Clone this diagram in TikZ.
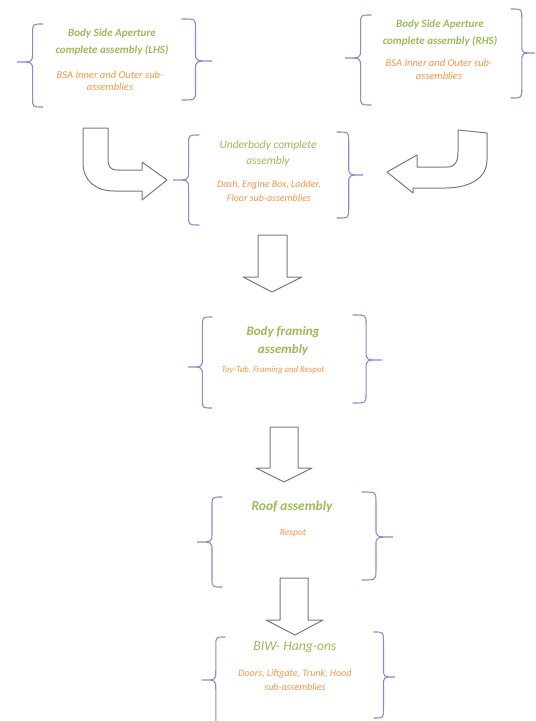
\documentclass[tikz,border=0pt]{standalone}
\usepackage{fontspec}
\setmainfont{Carlito}
\definecolor{tgreen}{HTML}{9BBB59}
\definecolor{torange}{HTML}{F79646}
\definecolor{tpurple}{HTML}{9B83CF}
\definecolor{tgray}{HTML}{7A7A7A}
\newcommand{\LBr}[5]{%
  \pgfmathsetmacro\brxm{#4+0.6*(#1-#4)}%
  \draw[bracestyle] (#1,#2) .. controls (\brxm,#2) .. (\brxm,#2+9) -- (\brxm,#5-9) .. controls (\brxm,#5) .. (#4,#5) .. controls (\brxm,#5) .. (\brxm,#5+9) -- (\brxm,#3-9) .. controls (\brxm,#3) .. (#1,#3);}
\newcommand{\RBr}[5]{%
  \pgfmathsetmacro\brxm{#4-0.55*(#4-#1)}%
  \draw[bracestyle] (#1,#2) .. controls (\brxm,#2) .. (\brxm,#2+9) -- (\brxm,#5-9) .. controls (\brxm,#5) .. (#4,#5) .. controls (\brxm,#5) .. (\brxm,#5+9) -- (\brxm,#3-9) .. controls (\brxm,#3) .. (#1,#3);}
\newcommand{\DownArrow}[8]{% x1 x2 ytop ybase hx1 hx2 tipx tipy
  \draw[blockarrow] (#1,#3) -- (#2,#3) -- (#2,#4) -- (#6,#4) -- (#7,#8) -- (#5,#4) -- (#1,#4) -- cycle;}
\tikzset{
  bracestyle/.style={draw=tpurple, line width=1.1pt, line cap=round},
  blockarrow/.style={draw=tgray, fill=white, line width=1pt, line join=round},
  titlebold/.style={text=tgreen, align=center, font=\fontsize{11}{17}\selectfont\bfseries\itshape},
  titleplain/.style={text=tgreen, align=center, font=\fontsize{11.5}{16}\selectfont\itshape},
  titlebig/.style={text=tgreen, align=center, font=\fontsize{13}{18}\selectfont\bfseries\itshape},
  subtext/.style={text=torange, align=center, font=\fontsize{10.5}{12.5}\selectfont\itshape},
  subtextb/.style={text=torange, align=center, font=\fontsize{10}{14}\selectfont\itshape},
}
\begin{document}
\begin{tikzpicture}[x=1pt,y=-1pt]
\useasboundingbox (0,0) rectangle (536,721);
\fill[white] (0,0) rectangle (536,721);

% Braces
\LBr{43}{24}{107}{17}{62}
\RBr{182}{19}{100}{212}{61}
\LBr{371}{15}{105}{345}{58}
\RBr{511}{9}{98}{535}{53}
\LBr{199}{135}{225}{173}{180}
\RBr{337}{132}{218}{363}{175}
\LBr{212}{317}{408}{188}{367}
\RBr{353}{315}{403}{382}{360}
\LBr{222}{497}{587}{197}{542}
\RBr{362}{492}{580}{393}{537}
\LBr{225}{637}{725}{202}{680}
\RBr{374}{632}{718}{395}{677}

% Texts
\node[titlebold] (lhsT) at (112,42) {Body Side Aperture\\complete assembly (LHS)};
\node[subtext] (lhsS) at (110,81) {BSA Inner and Outer sub-\\assemblies};
\node[titlebold] (rhsT) at (440,33.5) {Body Side Aperture\\complete assembly (RHS)};
\node[subtext] (rhsS) at (439,69.5) {BSA Inner and Outer sub-\\assemblies};
\node[titleplain] (ubT) at (268,153) {Underbody complete\\assembly};
\node[subtextb] (ubS) at (269,191) {Dash, Engine Box, Ladder,\\Floor sub-assemblies};
\node[titlebig] (bfT) at (283,341) {Body framing\\assembly};
\node[subtext, font=\fontsize{8.8}{12}\selectfont\itshape] (bfS) at (273,370) {Toy-Tab, Framing and Respot};
\node[titlebig, font=\fontsize{13.5}{18}\selectfont\bfseries\itshape] (rfT) at (292,507) {Roof assembly};
\node[subtext, font=\fontsize{9.5}{12}\selectfont\itshape] (rfS) at (293,533) {Respot};
\node[text=tgreen, font=\fontsize{13.7}{18}\selectfont\itshape] (biwT) at (295,647) {BIW- Hang-ons};
\node[subtextb] (biwS) at (295,680) {Doors, Liftgate, Trunk, Hood\\sub-assemblies};

% Curved arrows
\draw[blockarrow] (83,128) -- (108,128) -- (108,158) .. controls (108,167) and (110,170) .. (118,170) -- (142,170) -- (142,162) -- (167,180) -- (142,200) -- (142,191) -- (114,191) .. controls (95,191) and (83,180) .. (83,163) -- cycle;
\draw[blockarrow] (458,130) -- (487,133) -- (487,160) .. controls (487,178) and (470,188) .. (445,188) -- (413,188) -- (413,193) -- (387,172) -- (417,155) -- (417,167) -- (447,167) .. controls (455,167) and (458,162) .. (458,152) -- cycle;

% Down arrows
\DownArrow{258}{287}{235}{277}{243}{302}{272}{292}
\DownArrow{270}{298}{427}{468}{256}{312}{284}{482}
\DownArrow{280}{308}{578}{620}{266}{323}{295}{635}
\end{tikzpicture}
\end{document}
